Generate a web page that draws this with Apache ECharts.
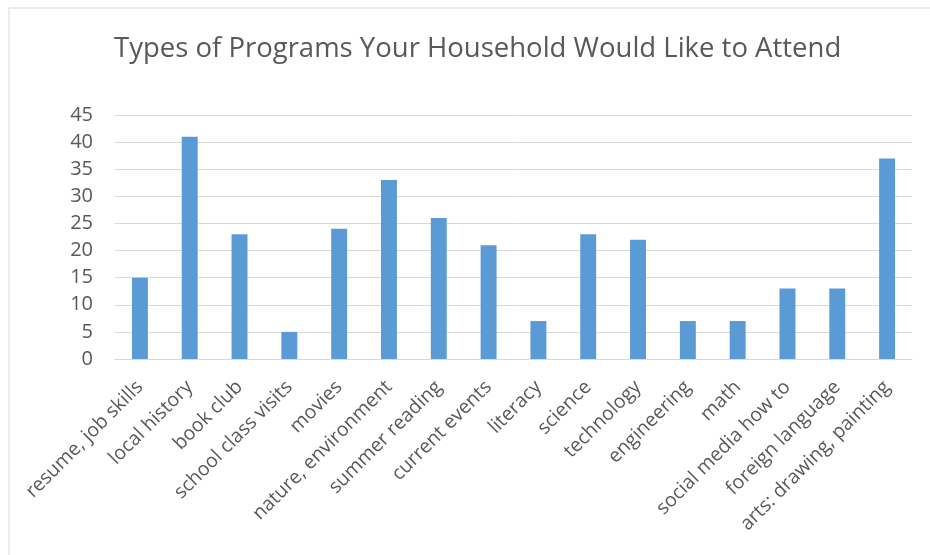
<!DOCTYPE html>
<html>
<head>
<meta charset="utf-8">
<script src="https://cdn.jsdelivr.net/npm/echarts@6/dist/echarts.min.js"></script>
<style>
  html, body { margin: 0; padding: 0; background: #fff; }
  #main { width: 930px; height: 555px; }
</style>
</head>
<body>
<div id="main"></div>
<script>
const categories = [
  "resume, job skills", "local history", "book club", "school class visits",
  "movies", "nature, environment", "summer reading", "current events",
  "literacy", "science", "technology", "engineering", "math",
  "social media how to", "foreign language", "arts: drawing, painting"
];
const counts = [15, 41, 23, 5, 24, 33, 26, 21, 7, 23, 22, 7, 7, 13, 13, 37];
const yTicks = { min: 0, max: 45, step: 5 };

const chart = echarts.init(document.getElementById("main"));
const font = "'Open Sans', 'Noto Sans', sans-serif";

chart.setOption({
  animation: false,
  textStyle: { fontFamily: font },
  title: {
    text: "Types of Programs Your Household Would Like to Attend",
    left: 109,
    top: 30,
    textStyle: { fontFamily: font, fontSize: 27.5, fontWeight: "normal", color: "#595959" }
  },
  graphic: [{
    type: "rect",
    shape: { x: 9, y: 8, width: 940, height: 560 },
    style: { fill: "none", stroke: "#d9d9d9", lineWidth: 1 },
    silent: true
  }],
  grid: { left: 115, right: 18, top: 115, bottom: 196, containLabel: false },
  xAxis: {
    type: "category",
    data: categories,
    axisLine: { lineStyle: { color: "#d9d9d9" } },
    axisTick: { show: false },
    axisLabel: {
      rotate: 45,
      interval: 0,
      color: "#595959",
      fontSize: 19.5,
      fontFamily: font,
      margin: 25
    }
  },
  yAxis: {
    type: "value",
    min: yTicks.min,
    max: yTicks.max,
    interval: yTicks.step,
    axisLine: { show: false },
    axisTick: { show: false },
    splitLine: { lineStyle: { color: "#d9d9d9", width: 1 } },
    axisLabel: { color: "#595959", fontSize: 20, fontFamily: font, margin: 22 }
  },
  series: [{
    type: "bar",
    data: counts,
    barWidth: "32%",
    itemStyle: { color: "#5b9bd5" }
  }]
});
</script>
</body>
</html>
